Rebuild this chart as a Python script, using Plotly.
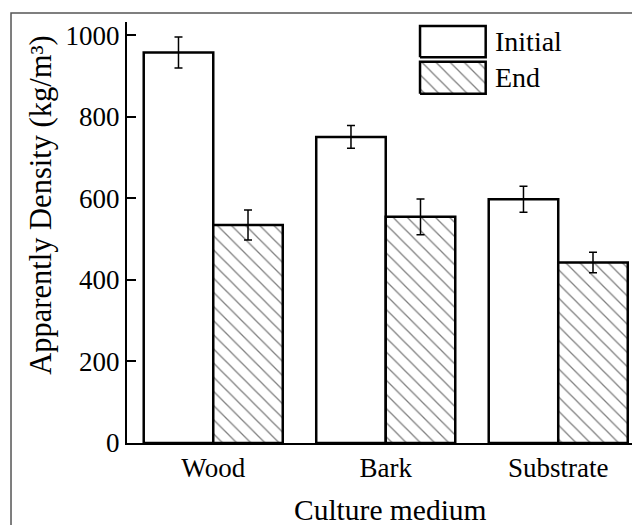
import plotly.graph_objects as go

# ---- data ----
categories = ["Wood", "Bark", "Substrate"]
initial_values = [958, 751, 598]
initial_errors = [38, 28, 32]
end_values = [535, 555, 443]
end_errors = [37, 44, 25]
y_ticks = [0, 200, 400, 600, 800, 1000]
series_names = ["Initial", "End"]

FONT = "Liberation Serif"
hatch = dict(shape="\\", size=10, solidity=0.13, fgcolor="black", bgcolor="white")

fig = go.Figure()
fig.add_trace(go.Bar(
    x=categories, y=initial_values, name=series_names[0],
    marker=dict(color="white", line=dict(color="black", width=2.5)),
    error_y=dict(type="data", array=initial_errors, color="black", thickness=1.5, width=4),
    showlegend=False,
))
fig.add_trace(go.Bar(
    x=categories, y=end_values, name=series_names[1],
    marker=dict(color="white", line=dict(color="black", width=2.5), pattern=hatch),
    error_y=dict(type="data", array=end_errors, color="black", thickness=1.5, width=4),
    showlegend=False,
))

# ---- custom legend (large swatches) on an overlay axis in [0,1] ----
leg_x0, leg_x1 = 0.5712, 0.6992
leg_boxes = [(0.9162, 0.9905), (0.8297, 0.9057)]
for i, (y0, y1) in enumerate(leg_boxes):
    fig.add_trace(go.Scatter(
        x=[leg_x0, leg_x1, leg_x1, leg_x0, leg_x0],
        y=[y0, y0, y1, y1, y0],
        mode="lines", fill="toself", fillcolor="white",
        fillpattern=hatch if i == 1 else None,
        line=dict(color="black", width=2.5),
        xaxis="x2", yaxis="y2", showlegend=False, hoverinfo="skip",
    ))

annotations = [
    dict(text=series_names[0], x=0.7135, y=0.9537, xref="paper", yref="paper",
         xanchor="left", yanchor="middle", showarrow=False,
         font=dict(family=FONT, size=28, color="black")),
    dict(text=series_names[1], x=0.7135, y=0.8682, xref="paper", yref="paper",
         xanchor="left", yanchor="middle", showarrow=False,
         font=dict(family=FONT, size=28, color="black")),
    dict(text="Apparently Density (kg/m³)", x=-0.1676, y=0.566, xref="paper", yref="paper",
         xanchor="center", yanchor="middle", textangle=-90, showarrow=False,
         font=dict(family=FONT, size=30.5, color="black")),
    dict(text="Culture medium", x=0.5127, y=-0.160, xref="paper", yref="paper",
         xanchor="center", yanchor="middle", showarrow=False,
         font=dict(family=FONT, size=29.5, color="black")),
]

# page body has an 8px default margin: figure is shifted by 8px right/down
fig.update_layout(
    width=632, height=517,
    margin=dict(l=119, r=0, t=14, b=82),
    paper_bgcolor="white", plot_bgcolor="white",
    barmode="group", bargap=0.194, bargroupgap=0,
    font=dict(family=FONT, color="black"),
    xaxis=dict(range=[-0.5, 2.474], showline=True, linecolor="black", linewidth=2,
               ticks="", showgrid=False, zeroline=False,
               tickfont=dict(family=FONT, size=27, color="black")),
    yaxis=dict(range=[0, 1033], tickvals=y_ticks, showline=True, linecolor="black",
               linewidth=2, ticks="inside", ticklen=9, tickwidth=2, tickcolor="black",
               showgrid=False, zeroline=False,
               tickfont=dict(family=FONT, size=27, color="black")),
    xaxis2=dict(range=[0, 1], overlaying="x", visible=False, fixedrange=True),
    yaxis2=dict(range=[0, 1], overlaying="y", visible=False, fixedrange=True),
    annotations=annotations,
    shapes=[dict(type="rect", xref="paper", yref="paper",
                 x0=-0.2261, x1=1.05, y0=-0.35, y1=1.0214,
                 line=dict(color="#555555", width=1.5), layer="above")],
)

fig.write_html("out.html")
